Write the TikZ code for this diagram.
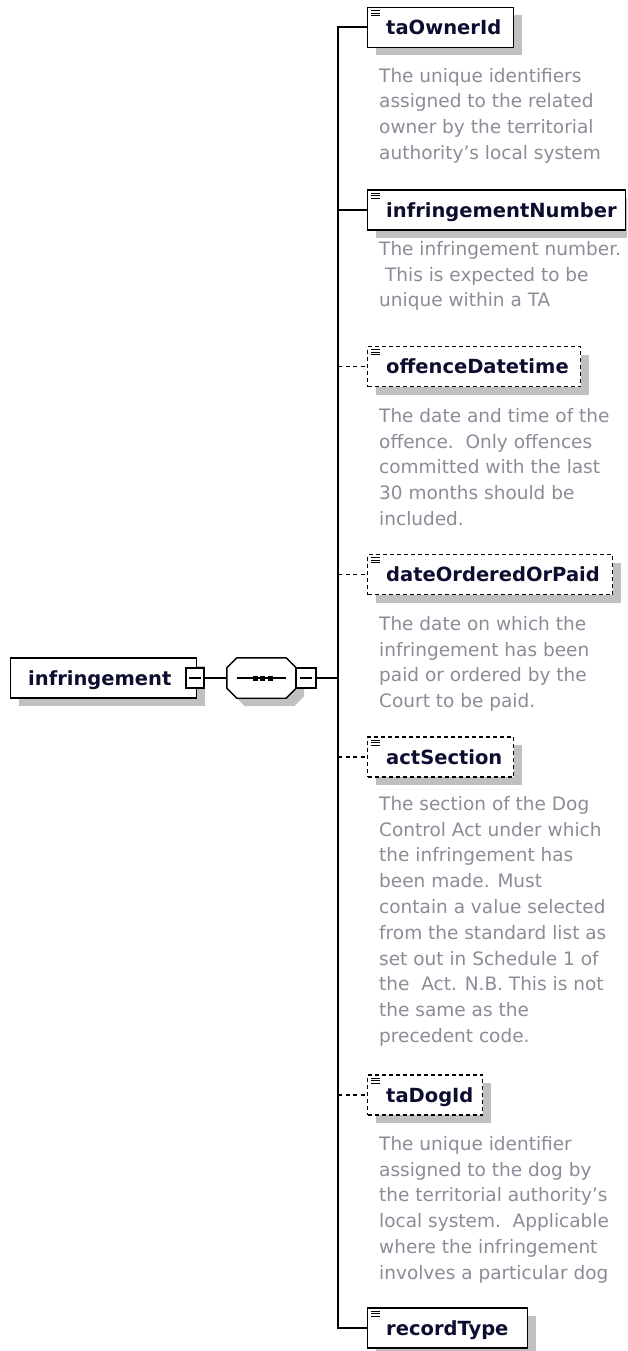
\documentclass[tikz,border=0pt]{standalone}
\usepackage{fontspec}
\setmainfont{DejaVu Sans}
\usetikzlibrary{calc,shadows}
\definecolor{shadowc}{HTML}{C0C0C0}
\definecolor{descc}{HTML}{8C8C98}
\definecolor{lblc}{HTML}{0D0D30}
\newcommand{\firstl}{\rule{0pt}{15pt}}
\begin{document}
\begin{tikzpicture}[x=1pt,y=-1pt,
  elem/.style={draw=black, line width=1.4pt, fill=white, rectangle, inner sep=0pt,
    minimum height=40pt, anchor=west,
    drop shadow={shadow xshift=8pt, shadow yshift=-8pt, opacity=1, fill=shadowc}},
  optelem/.style={elem, dash pattern=on 4pt off 3pt},
  lbl/.style={anchor=base west, inner sep=0pt, text=lblc,
    font=\bfseries\fontsize{19.5}{22}\selectfont},
  desc/.style={anchor=north west, inner sep=0pt, align=left, text=descc,
    font=\fontsize{18.5}{25.8}\selectfont},
  conn/.style={draw=black, line width=1.6pt},
  optconn/.style={conn, dash pattern=on 4pt off 3.5pt},
  busline/.style={draw=black, line width=2pt},
  minusbox/.style={draw=black, line width=1.4pt, fill=white, rectangle, inner sep=0pt,
    minimum width=18pt, minimum height=20pt},
  iconline/.style={draw=black, line width=1pt}
]
\useasboundingbox (0,0) rectangle (627,1351);
\clip (0,0) rectangle (627,1351);
\fill[white] (0,0) rectangle (627,1351);

% root element
\node[elem, minimum width=186pt] (root) at (10,678) {};
\node[lbl] (rootl) at ($(root.west)+(18,7)$) {infringement};
\node[minusbox] (rm) at (195,678) {};
\draw[line width=1.3pt] ($(rm.center)+(-6,0)$) -- ($(rm.center)+(6,0)$);

% sequence compositor
\node[minimum width=69pt, minimum height=40pt, inner sep=0pt] (seq) at (261.5,678) {};
\fill[shadowc] ($(seq.north west)+(18,8)$) -- ($(seq.north east)+(-2,8)$)
  -- ($(seq.north east)+(8,18)$) -- ($(seq.south east)+(8,-2)$)
  -- ($(seq.south east)+(-2,8)$) -- ($(seq.south west)+(18,8)$)
  -- ($(seq.south west)+(8,-2)$) -- ($(seq.north west)+(8,18)$) -- cycle;
\draw[line width=1.4pt, fill=white] ($(seq.north west)+(10,0)$) -- ($(seq.north east)+(-10,0)$)
  -- ($(seq.north east)+(0,10)$) -- ($(seq.south east)+(0,-10)$)
  -- ($(seq.south east)+(-10,0)$) -- ($(seq.south west)+(10,0)$)
  -- ($(seq.south west)+(0,-10)$) -- ($(seq.north west)+(0,10)$) -- cycle;
\draw[line width=1.5pt] ($(seq.west)+(10,0)$) -- ($(seq.east)+(-10,0)$);
\foreach \dx in {-6.5,1,8.5}
  \fill ($(seq.center)+(\dx-2.5,-2.5)$) rectangle +(5,5);
\node[minusbox, minimum width=20pt] (sm) at (306,678) {};
\draw[line width=1.3pt] ($(sm.center)+(-6,0)$) -- ($(sm.center)+(6,0)$);

\coordinate (bus) at (338,678);

% child elements
\node[elem, minimum width=146pt] (b1) at (367,27.5) {};
\node[elem, minimum width=258pt] (b2) at (367,210) {};
\node[optelem, minimum width=213pt] (b3) at (367,366.5) {};
\node[optelem, minimum width=245pt] (b4) at (367,574.5) {};
\node[optelem, minimum width=146pt] (b5) at (367,757) {};
\node[optelem, minimum width=115pt] (b6) at (367,1095) {};
\node[elem, minimum width=160pt] (b7) at (367,1328) {};

\foreach \b in {b1,b2,b3,b4,b5,b6,b7}{
  \draw[iconline] ($(\b.north west)+(4,4)$) -- +(9,0);
  \draw[iconline] ($(\b.north west)+(4,6.5)$) -- +(9,0);
  \draw[iconline] ($(\b.north west)+(4,9)$) -- +(9,0);
}

\node[lbl] (l1) at ($(b1.west)+(19,7)$) {taOwnerId};
\node[lbl] (l2) at ($(b2.west)+(19,7)$) {infringementNumber};
\node[lbl] (l3) at ($(b3.west)+(19,7)$) {offenceDatetime};
\node[lbl] (l4) at ($(b4.west)+(19,7)$) {dateOrderedOrPaid};
\node[lbl] (l5) at ($(b5.west)+(19,7)$) {actSection};
\node[lbl] (l6) at ($(b6.west)+(19,7)$) {taDogId};
\node[lbl] (l7) at ($(b7.west)+(19,7)$) {recordType};

% descriptions
\node[desc] (d1) at (379,67) {\firstl The unique identifiers\\assigned to the related\\owner by the territorial\\authority's local system};
\node[desc] (d2) at (379,240) {\firstl The infringement number.\\\ This is expected to be\\unique within a TA};
\node[desc] (d3) at (379,407) {\firstl The date and time of the\\offence.\ \ Only offences\\committed with the last\\30 months should be\\included.};
\node[desc] (d4) at (379,615) {\firstl The date on which the\\infringement has been\\paid or ordered by the\\Court to be paid.};
\node[desc] (d5) at (379,795) {\firstl The section of the Dog\\Control Act under which\\the infringement has\\been made. Must\\contain a value selected\\from the standard list as\\set out in Schedule 1 of\\the\ \ Act. N.B. This is not\\the same as the\\precedent code.};
\node[desc] (d6) at (379,1135) {\firstl The unique identifier\\assigned to the dog by\\the territorial authority's\\local system.\ \ Applicable\\where the infringement\\involves a particular dog};

% connectors
\draw[conn] (rm.east) -- (seq.west);
\draw[conn] (sm.east) -- (bus);
\draw[busline] (b1.west) -| (bus) |- (b7.west);
\draw[conn] (bus |- b2.west) -- (b2.west);
\draw[optconn] (bus |- b3.west) -- (b3.west);
\draw[optconn] (bus |- b4.west) -- (b4.west);
\draw[optconn] (bus |- b5.west) -- (b5.west);
\draw[optconn] (bus |- b6.west) -- (b6.west);
\end{tikzpicture}
\end{document}
